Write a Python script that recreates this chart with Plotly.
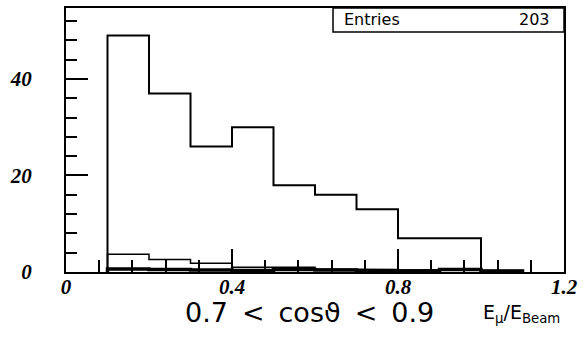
import plotly.graph_objects as go

# Data
bin_edges = [0.1, 0.2, 0.3, 0.4, 0.5, 0.6, 0.7, 0.8, 0.9, 1.0]
data_counts = [49, 37, 26, 30, 18, 16, 13, 7, 7]
bg_edges = [0.1, 0.2, 0.3, 0.4, 0.5, 0.6, 0.7, 0.8, 0.9, 1.0, 1.1]
bg1_counts = [3.7, 2.6, 1.8, 1.0, 1.0, 0.6, 0.5, 0.4, 0.5, 0.3]
bg2_counts = [0.6, 0.5, 0.4, 0.3, 0.5, 0.4, 0.1, 0.2, 0.5, 0.2]
entries = 203


def step(edges, vals):
    xs, ys = [edges[0]], [0]
    for i, v in enumerate(vals):
        xs += [edges[i], edges[i + 1]]
        ys += [v, v]
    xs.append(edges[-1])
    ys.append(0)
    return xs, ys


fig = go.Figure()
for edges, vals, w in [(bg_edges, bg2_counts, 3.5), (bg_edges, bg1_counts, 1.5), (bin_edges, data_counts, 2)]:
    xs, ys = step(edges, vals)
    fig.add_trace(go.Scatter(x=xs, y=ys, mode="lines", line=dict(color="black", width=w),
                             showlegend=False, hoverinfo="skip", cliponaxis=False))

tickfont = dict(family="Liberation Serif", size=21, color="black", style="italic", weight="bold")

fig.update_layout(
    width=586, height=338,
    margin=dict(l=66, r=22, t=8, b=66, autoexpand=False),
    paper_bgcolor="white", plot_bgcolor="white",
    xaxis=dict(range=[0, 1.2], tickvals=[0, 0.4, 0.8, 1.2], ticktext=["0", "0.4", "0.8", "1.2"],
               ticks="inside", ticklen=23, tickwidth=1.5, tickcolor="black",
               minor=dict(ticks="inside", ticklen=12, tickwidth=1.5, tickcolor="black", dtick=0.08, tick0=0),
               showline=True, linecolor="black", linewidth=2, mirror=True, automargin=False,
               showgrid=False, zeroline=False, tickfont=tickfont, ticklabelstandoff=-5),
    yaxis=dict(range=[0, 54.7], tickvals=[0, 20, 40], ticktext=["0", "20", "40"],
               ticks="inside", ticklen=22, tickwidth=1.5, tickcolor="black",
               minor=dict(ticks="inside", ticklen=11, tickwidth=1.5, tickcolor="black", dtick=4, tick0=0),
               showline=True, linecolor="black", linewidth=2, mirror=True, automargin=False,
               showgrid=False, zeroline=False, tickfont=tickfont, ticklabelstandoff=28),
)

# stats box
fig.add_shape(type="rect", xref="paper", yref="paper", x0=(333 - 66) / 498, x1=1.0,
              y0=(264 - 24) / 264, y1=1.0, line=dict(color="black", width=1.5), fillcolor="white")
fig.add_annotation(xref="paper", yref="paper", x=(342 - 66) / 498, y=(264 - 12) / 264,
                   text="Entries", showarrow=False, xanchor="left", yanchor="middle",
                   font=dict(family="DejaVu Sans", size=16, color="black"))
fig.add_annotation(xref="paper", yref="paper", x=(552 - 66) / 498, y=(264 - 12) / 264,
                   text=str(entries), showarrow=False, xanchor="right", yanchor="middle",
                   font=dict(family="DejaVu Sans", size=16, color="black"))

# labels
fig.add_annotation(xref="paper", yref="paper", x=(183 - 66) / 498, y=-(312 - 272) / 264,
                   text="0.7\u2009 &lt;\u2009 cosϑ\u2009 &lt;\u2009 0.9", showarrow=False,
                   xanchor="left", yanchor="middle",
                   font=dict(family="DejaVu Sans", size=27, color="black"))
fig.add_annotation(xref="paper", yref="paper", x=(481 - 66) / 498, y=-(313 - 272) / 264,
                   text="E<sub>μ</sub>/E<sub>Beam</sub>", showarrow=False, xanchor="left", yanchor="middle",
                   font=dict(family="DejaVu Sans", size=19, color="black"))

fig.write_html("out.html", config={"displayModeBar": False},
               post_script="document.body.style.margin='0';document.body.style.padding='0';")
